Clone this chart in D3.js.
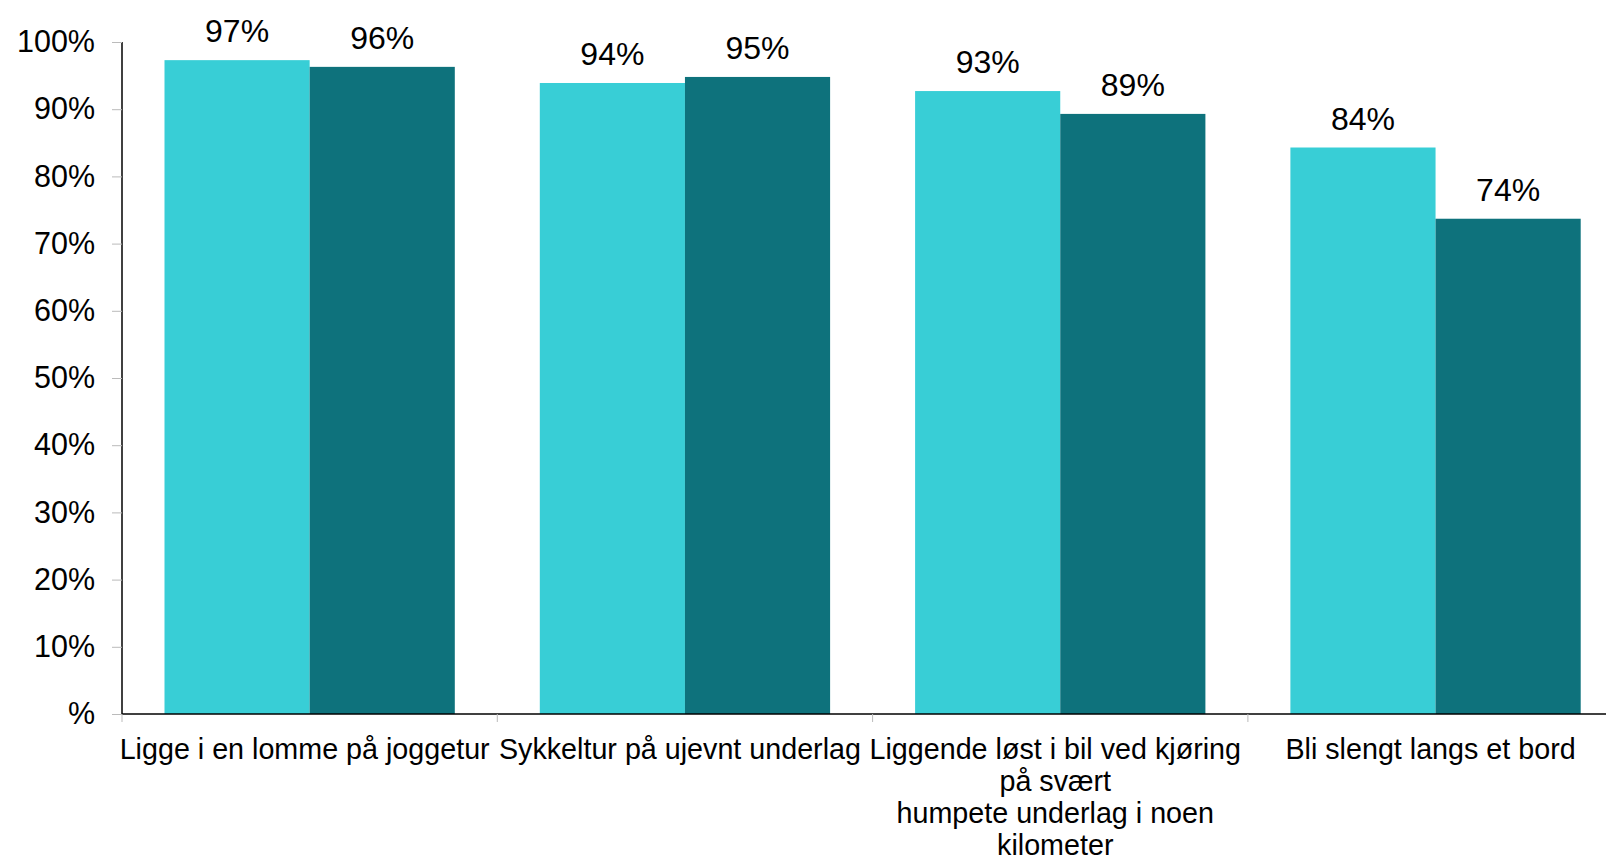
<!DOCTYPE html>
<html><head><meta charset="utf-8">
<script src="https://cdn.jsdelivr.net/npm/d3@7"></script>
<style>body{margin:0;background:#fff;} svg{display:block;font-family:"Liberation Sans",Arial,sans-serif;}</style>
</head><body>
<svg id="c" width="1606" height="861"></svg>
<script>
const categories = ["Ligge i en lomme på joggetur", "Sykkeltur på ujevnt underlag", "Liggende løst i bil ved kjøring\npå svært\nhumpete underlag i noen\nkilometer", "Bli slengt langs et bord"];
const seriesNames = ["Serie 1", "Serie 2"];
const series1 = [0.973, 0.939, 0.927, 0.843];
const series2 = [0.963, 0.948, 0.893, 0.737];
const yTicks = [0, 0.1, 0.2, 0.3, 0.4, 0.5, 0.6, 0.7, 0.8, 0.9, 1.0];
const colors = ["#38CED6", "#0E727C"];

(function(){
const svg = d3.select("#c");
const mLeft = 122, mTop = 42, mBottom = 714;
const step = 375.3;
const x0 = d3.scaleBand().domain(categories).range([mLeft, mLeft + step * categories.length]).padding(0);
const x1 = d3.scaleBand().domain(seriesNames).range([42.5, step - 42.5]).padding(0);
const y = d3.scaleLinear().domain([0, 1]).range([mBottom, mTop]);

const data = categories.map((c, i) => ({c, vals: [series1[i], series2[i]]}));
const g = svg.append("g");
data.forEach(d => {
  d.vals.forEach((v, j) => {
    const xx = x0(d.c) + x1(seriesNames[j]);
    g.append("rect").attr("x", xx).attr("y", y(v)).attr("width", x1.bandwidth()).attr("height", y(0) - y(v)).attr("fill", colors[j]);
    g.append("text").attr("x", xx + x1.bandwidth() / 2).attr("y", y(v) - 18).attr("text-anchor", "middle")
      .attr("font-size", 32).attr("fill", "#000").text(Math.round(v * 100) + "%");
  });
});

const yAxis = d3.axisLeft(y).tickValues(yTicks).tickSize(10).tickPadding(17)
  .tickFormat(d => d === 0 ? "%" : Math.round(d * 100) + "%");
const ya = svg.append("g").attr("transform", `translate(${mLeft},0)`).call(yAxis);
ya.select(".domain").attr("stroke", "#000").attr("stroke-width", 1.5).attr("d", `M0,${mTop}V${mBottom}`);
ya.selectAll(".tick line").attr("stroke", "#bbb");
ya.selectAll(".tick text").attr("font-size", 30.5).attr("fill", "#000").attr("font-family", "Liberation Sans, Arial, sans-serif");

const xa = svg.append("g");
xa.append("line").attr("x1", mLeft).attr("x2", 1606).attr("y1", mBottom).attr("y2", mBottom).attr("stroke", "#000").attr("stroke-width", 1.5);
const bounds = categories.map(c => x0(c)).concat([x0.range()[1]]);
bounds.forEach(b => xa.append("line").attr("x1", b).attr("x2", b).attr("y1", mBottom).attr("y2", mBottom + 8).attr("stroke", "#bbb"));
categories.forEach(c => {
  const lines = c.split("\n");
  const t = xa.append("text").attr("text-anchor", "middle").attr("font-size", 28.7).attr("fill", "#000");
  lines.forEach((l, k) => t.append("tspan").attr("x", x0(c) + x0.bandwidth() / 2 - 5).attr("y", mBottom + 45 + k * 32).text(l));
});
})();
</script>
</body></html>
